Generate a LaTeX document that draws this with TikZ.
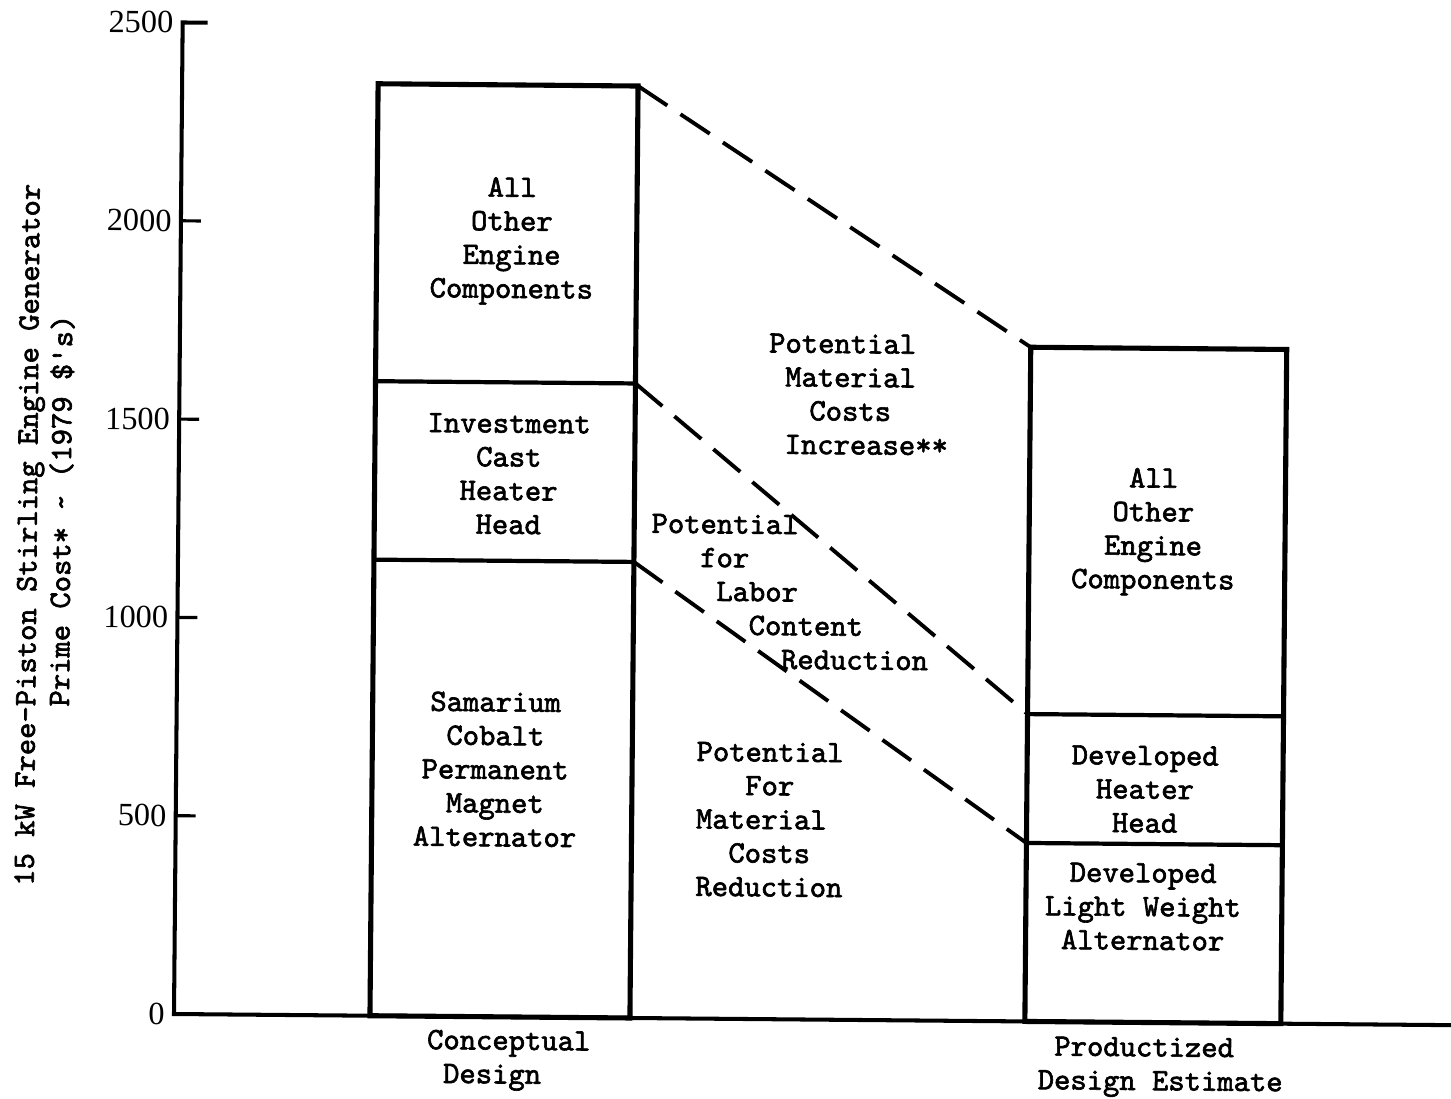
\documentclass[tikz,border=0pt]{standalone}
\usepackage{fontspec}
\newfontfamily\typewriter{lmmono10-regular}[Extension=.otf,FakeBold=2]
\newfontfamily\numfont{Liberation Serif}
\newcommand\indentby[1]{\hspace*{#1\fontcharwd\font`x}}
\usepackage{tikz}

\begin{document}
\begin{tikzpicture}[x=0.02cm,y=-0.02cm,
    bar/.style={line width=2.9pt,line join=miter},
    divider/.style={line width=2.4pt},
    axis/.style={line width=2.3pt,line join=miter},
    tick/.style={line width=1.8pt},
    trend/.style={line width=2.2pt,dash pattern=on 20pt off 9pt},
    lbl/.style={font=\typewriter\fontsize{17.7}{19.2}\selectfont,inner sep=0pt},
    num/.style={font=\numfont\fontsize{18.4}{20}\selectfont,inner sep=0pt,anchor=east}]
  \useasboundingbox (0,0) rectangle (1451,1099);
  \begin{scope}[shift={(174,1014)},rotate=-0.5,x=0.02cm,y=0.00794cm,transform shape]
    \coordinate (cd-sw) at (196,0);
    \coordinate (cd-se) at (456,0);
    \coordinate (cd-nw) at (196,2350);
    \coordinate (cd-ne) at (456,2350);
    \coordinate (cd-aw) at (196,1600);
    \coordinate (cd-ae) at (456,1600);
    \coordinate (cd-bw) at (196,1150);
    \coordinate (cd-be) at (456,1150);
    \coordinate (pd-sw) at (851,0);
    \coordinate (pd-se) at (1107,0);
    \coordinate (pd-nw) at (851,1700);
    \coordinate (pd-ne) at (1107,1700);
    \coordinate (pd-aw) at (851,775);
    \coordinate (pd-ae) at (1107,775);
    \coordinate (pd-bw) at (851,450);
    \coordinate (pd-be) at (1107,450);

    \draw[axis] (25,2500) -- (0,2500) -- (0,0) -- (1300,0);
    \foreach \v in {500,1000,1500,2000}
      \draw[tick] (0,\v) -- (20,\v);
    \foreach \v in {0,500,...,2500}
      \node[num] (n\v) at (-9,\v) {\v};

    \draw[bar] (cd-sw) -- (cd-nw) -- (cd-ne) -- (cd-se) -- cycle;
    \draw[divider] (cd-aw) -- (cd-ae);
    \draw[divider] (cd-bw) -- (cd-be);
    \draw[bar] (pd-sw) -- (pd-nw) -- (pd-ne) -- (pd-se) -- cycle;
    \draw[divider] (pd-aw) -- (pd-ae);
    \draw[divider] (pd-bw) -- (pd-be);

    \draw[trend] (cd-ne) -- (pd-nw);
    \draw[trend] (cd-ae) -- (pd-aw);
    \draw[trend] (cd-be) -- (pd-bw);

    \node[lbl,align=center] (cd-other) at (331,1956) {All\\Other\\Engine\\Components};
    \node[lbl,align=center] (cd-head) at (330,1369) {Investment\\Cast\\Heater\\Head};
    \node[lbl,align=center] (cd-magnet) at (319,624) {Samarium\\Cobalt\\Permanent\\Magnet\\Alternator};
    \node[lbl,align=center] (pd-other) at (975,1237) {All\\Other\\Engine\\Components};
    \node[lbl,align=center] (pd-head) at (969,588) {Developed\\Heater\\Head};
    \node[lbl,align=center] (pd-alt) at (968,292) {Developed\\Light Weight\\Alternator};

    \node[lbl,align=left,anchor=west] (incr) at (589,1577)
      {Potential\\\indentby{1}Material\\\indentby{2.5}Costs\\\indentby{1}Increase**};
    \node[lbl,align=left,anchor=west] (labor) at (473,1077)
      {Potential\\\indentby{3}for\\\indentby{4}Labor\\\indentby{6}Content\\\indentby{8}Reduction};
    \node[lbl,align=left,anchor=west] (matred) at (520,503)
      {Potential\\\indentby{3}For\\Material\\\indentby{2}Costs\\Reduction};

    \node[lbl,align=left,anchor=west] (cd-name) at (253,-110) {Conceptual\\\indentby{1}Design};
    \node[lbl,align=left,anchor=west] (pd-name) at (864,-113) {\indentby{1}Productized\\Design Estimate};

    \node[lbl,align=left,rotate=90] (ytitle) at (-133,1205)
      {15 kW Free-Piston Stirling Engine Generator\\\indentby{11}Prime Cost* \textasciitilde{} (1979 \$\textquotesingle s)};
  \end{scope}
\end{tikzpicture}
\end{document}
